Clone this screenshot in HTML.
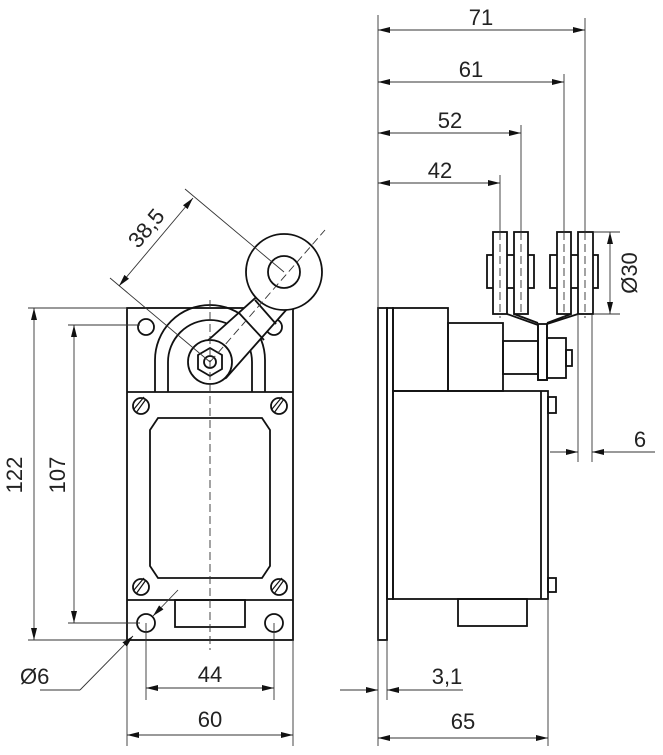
<!DOCTYPE html>
<html><head><meta charset="utf-8"><style>
html,body{margin:0;padding:0;background:#fff;}
svg{display:block;}
text{font-family:"Liberation Sans",sans-serif;font-size:22px;fill:#222;}
</style></head><body>
<svg width="663" height="755" viewBox="0 0 663 755" xmlns="http://www.w3.org/2000/svg">
<defs>
<marker id="a" viewBox="0 0 12 6" refX="12" refY="3" markerWidth="12" markerHeight="6" orient="auto-start-reverse" markerUnits="userSpaceOnUse"><path d="M0,0 L12,3 L0,6 z" fill="#111"/></marker>
</defs>
<g stroke="#111" fill="none" stroke-width="1.8">
<rect x="127" y="308" width="166" height="332"/>
<line x1="127" y1="392" x2="293" y2="392"/>
<line x1="127" y1="600" x2="293" y2="600"/>
<circle cx="146" cy="327" r="8"/><circle cx="274" cy="327" r="8"/>
<circle cx="146" cy="623" r="9"/><circle cx="274" cy="623" r="9"/>
<path d="M158,418 L262,418 L270,430 L270,566 L262,578 L158,578 L150,566 L150,430 Z"/>
<rect x="175" y="600" width="70" height="27"/>
<g>
<circle cx="141" cy="406" r="8"/><line x1="136" y1="413" x2="146" y2="399" stroke-width="1.2"/><line x1="134" y1="409" x2="144" y2="397" stroke-width="1.2"/>
<circle cx="279" cy="406" r="8"/><line x1="274" y1="413" x2="284" y2="399" stroke-width="1.2"/><line x1="272" y1="409" x2="282" y2="397" stroke-width="1.2"/>
<circle cx="141" cy="587" r="8"/><line x1="136" y1="594" x2="146" y2="580" stroke-width="1.2"/><line x1="134" y1="590" x2="144" y2="578" stroke-width="1.2"/>
<circle cx="279" cy="587" r="8"/><line x1="274" y1="594" x2="284" y2="580" stroke-width="1.2"/><line x1="272" y1="590" x2="282" y2="578" stroke-width="1.2"/>
</g>
<path d="M155,392 L155,360 A55,55 0 0 1 265,360 L265,392"/>
<path d="M168,392 L168,362 A42,42 0 0 1 252,362 L252,392"/>
<path d="M195,352 L262,292 L295,300 L226,378 A22,22 0 0 1 195,352 Z" fill="#fff"/>
<line x1="239" y1="313" x2="264" y2="340"/>
<line x1="255" y1="300" x2="276" y2="324"/>
<circle cx="210" cy="362" r="22" fill="#fff"/>
<polygon points="210,348 222,355 222,369 210,376 198,369 198,355" fill="#fff"/>
<circle cx="210" cy="362" r="6"/>
<circle cx="284" cy="272" r="38" fill="#fff"/>
<circle cx="284" cy="272" r="16"/>
<rect x="378" y="308" width="9" height="332"/>
<rect x="387" y="308" width="6" height="291"/>
<rect x="393" y="308" width="55" height="83"/>
<rect x="448" y="323" width="55" height="68"/>
<rect x="503" y="341" width="35" height="33"/>
<rect x="538" y="324" width="9" height="56"/>
<rect x="547" y="338" width="19" height="40"/>
<rect x="566" y="350" width="6" height="16"/>
<rect x="393" y="391" width="155" height="208"/>
<line x1="541" y1="391" x2="541" y2="599"/>
<rect x="548" y="397" width="8" height="16"/>
<rect x="548" y="578" width="8" height="14"/>
<rect x="458" y="599" width="69" height="27"/>
<rect x="487" y="255" width="47" height="33"/>
<rect x="550" y="255" width="48" height="33"/>
<rect x="493" y="232" width="14" height="82" fill="#fff"/>
<rect x="514" y="232" width="14" height="82" fill="#fff"/>
<rect x="557" y="232" width="14" height="82" fill="#fff"/>
<rect x="578" y="232" width="15" height="82" fill="#fff"/>
<path d="M507,314 L538,325 L538,380 L547,380 L547,324 L578,314"/>
<path d="M514,314 L538,323 M571,314 L547,323"/>
</g>
<g stroke="#333" fill="none" stroke-width="0.9">
<line x1="210" y1="300" x2="210" y2="650" stroke-dasharray="8,4"/>
<line x1="210" y1="362" x2="325" y2="230" stroke-dasharray="8,4"/>
<line x1="500" y1="232" x2="500" y2="318" stroke-dasharray="8,4"/>
<line x1="521" y1="232" x2="521" y2="318" stroke-dasharray="8,4"/>
<line x1="564" y1="232" x2="564" y2="318" stroke-dasharray="8,4"/>
<line x1="585" y1="232" x2="585" y2="318" stroke-dasharray="8,4"/>
<line x1="500" y1="175" x2="500" y2="232"/>
<line x1="521" y1="125" x2="521" y2="232"/>
<line x1="564" y1="74" x2="564" y2="232"/>
<line x1="585" y1="18" x2="585" y2="232"/>
<line x1="28" y1="308" x2="127" y2="308"/><line x1="28" y1="640" x2="127" y2="640"/>
<line x1="34" y1="308" x2="34" y2="640" marker-start="url(#a)" marker-end="url(#a)"/>
<line x1="68" y1="325" x2="140" y2="325"/><line x1="68" y1="623" x2="140" y2="623"/>
<line x1="74" y1="325" x2="74" y2="623" marker-start="url(#a)" marker-end="url(#a)"/>
<line x1="146" y1="623" x2="146" y2="700"/><line x1="274" y1="623" x2="274" y2="700"/>
<line x1="146" y1="688" x2="274" y2="688" marker-start="url(#a)" marker-end="url(#a)"/>
<line x1="127" y1="640" x2="127" y2="746"/><line x1="293" y1="640" x2="293" y2="746"/>
<line x1="127" y1="735" x2="293" y2="735" marker-start="url(#a)" marker-end="url(#a)"/>
<line x1="40" y1="690" x2="80" y2="690"/>
<line x1="80" y1="690" x2="133" y2="636" marker-end="url(#a)"/>
<line x1="178" y1="590" x2="153" y2="616" marker-end="url(#a)"/>
<line x1="210" y1="362" x2="110" y2="278"/><line x1="284" y1="272" x2="185" y2="189"/>
<line x1="119" y1="286" x2="193" y2="198" marker-start="url(#a)" marker-end="url(#a)"/>
<line x1="378" y1="15" x2="378" y2="746"/>
<line x1="387" y1="640" x2="387" y2="700"/>
<line x1="548" y1="600" x2="548" y2="746"/>
<line x1="378" y1="30" x2="585" y2="30" marker-start="url(#a)" marker-end="url(#a)"/>
<line x1="378" y1="82" x2="564" y2="82" marker-start="url(#a)" marker-end="url(#a)"/>
<line x1="378" y1="133" x2="521" y2="133" marker-start="url(#a)" marker-end="url(#a)"/>
<line x1="378" y1="183" x2="500" y2="183" marker-start="url(#a)" marker-end="url(#a)"/>
<line x1="593" y1="232" x2="620" y2="232"/><line x1="593" y1="314" x2="620" y2="314"/>
<line x1="610" y1="232" x2="610" y2="314" marker-start="url(#a)" marker-end="url(#a)"/>
<line x1="578" y1="314" x2="578" y2="462"/><line x1="592" y1="314" x2="592" y2="462"/>
<line x1="550" y1="452" x2="578" y2="452" marker-end="url(#a)"/>
<line x1="655" y1="452" x2="592" y2="452" marker-end="url(#a)"/>
<line x1="340" y1="690" x2="378" y2="690" marker-end="url(#a)"/>
<line x1="463" y1="690" x2="387" y2="690" marker-end="url(#a)"/>
<line x1="378" y1="738" x2="548" y2="738" marker-start="url(#a)" marker-end="url(#a)"/>
</g>
<text x="0" y="0" transform="translate(22,475) rotate(-90)" text-anchor="middle">122</text>
<text x="0" y="0" transform="translate(65,475) rotate(-90)" text-anchor="middle">107</text>
<text x="0" y="0" transform="translate(152,233) rotate(-50)" text-anchor="middle">38,5</text>
<text x="210" y="682" text-anchor="middle">44</text>
<text x="210" y="727" text-anchor="middle">60</text>
<text x="20" y="684">Ø6</text>
<text x="481" y="25" text-anchor="middle">71</text>
<text x="471" y="77" text-anchor="middle">61</text>
<text x="450" y="128" text-anchor="middle">52</text>
<text x="440" y="178" text-anchor="middle">42</text>
<text x="0" y="0" transform="translate(637,273) rotate(-90)" text-anchor="middle">Ø30</text>
<text x="640" y="447" text-anchor="middle">6</text>
<text x="447" y="684" text-anchor="middle">3,1</text>
<text x="463" y="729" text-anchor="middle">65</text>
</svg>
</body></html>
